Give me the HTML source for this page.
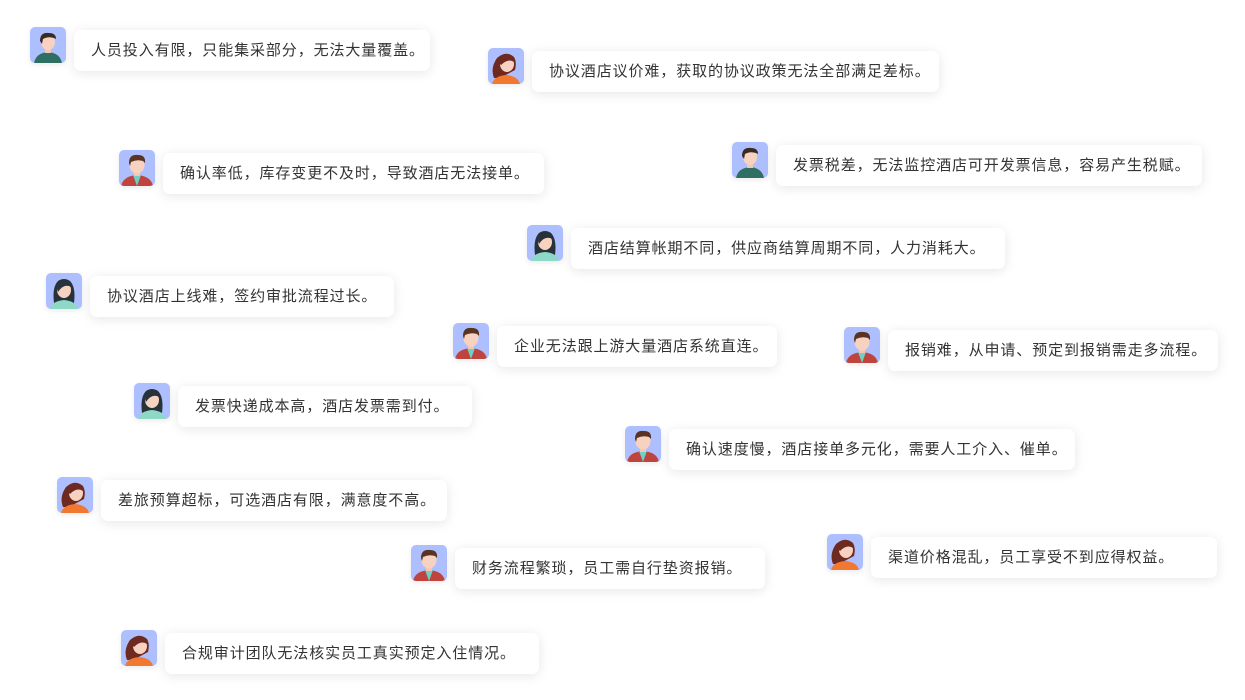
<!DOCTYPE html>
<html><head><meta charset="utf-8"><style>
body{margin:0;width:1245px;height:700px;background:#fff;position:relative;overflow:hidden;font-family:"Liberation Sans","Noto Sans CJK SC",sans-serif;}
.b{position:absolute;height:41px;background:#fff;border-radius:7px;box-shadow:0 2px 12px rgba(0,0,0,0.10);font-size:15px;letter-spacing:0.9px;color:#333;line-height:41px;padding-left:17px;box-sizing:border-box;white-space:nowrap}
.a{position:absolute;width:36px;height:36px;border-radius:5px;background:#aebfff;overflow:hidden;box-shadow:0 2px 6px rgba(0,0,0,0.08)}
.a svg{display:block}
</style></head><body>
<svg width="0" height="0" style="position:absolute">
<defs>
<symbol id="mg" viewBox="0 0 36 36"><path d="M4 36 Q6 26 18 25 Q30 26 32 36Z" fill="#2e6e63"/><rect x="15" y="20" width="6" height="6" fill="#f5c6b0"/><ellipse cx="18" cy="15" rx="7" ry="8" fill="#f8d2c0"/><path d="M10 14 Q10 5 19 6 Q26 6 26 12 L24 11 Q18 9 13 12 L12 17Z" fill="#3a2a22"/></symbol>
<symbol id="mr" viewBox="0 0 36 36"><path d="M2 36 Q4 26 18 25 Q32 26 34 36Z" fill="#c0443e"/><path d="M14 25 L18 36 L22 25Z" fill="#6fd0c6"/><rect x="15" y="20" width="6" height="6" fill="#f5c6b0"/><ellipse cx="18" cy="15" rx="7.5" ry="8.5" fill="#f8d2c0"/><path d="M10 13 Q10 4 19 5 Q27 5 26 13 L24 11 Q18 9 12 12 L11 16Z" fill="#5a3322"/></symbol>
<symbol id="fo" viewBox="0 0 36 36"><path d="M6 30 Q2 20 9 10 Q18 2 26 9 Q29 14 27 22 L12 30Z" fill="#6e2a20"/><path d="M4 36 Q6 28 18 27 Q30 28 32 36Z" fill="#f07830"/><ellipse cx="19" cy="16" rx="7" ry="8" fill="#f8d2c0"/><path d="M11 15 Q12 6 20 7 Q26 8 26 14 Q20 10 13 17Z" fill="#6e2a20"/></symbol>
<symbol id="ft" viewBox="0 0 36 36"><path d="M8 30 Q6 14 12 8 Q18 4 24 8 Q30 14 28 30Z" fill="#27323a"/><path d="M4 36 Q6 28 18 27 Q30 28 32 36Z" fill="#8ed8c8"/><ellipse cx="18" cy="17" rx="7" ry="8" fill="#f8d2c0"/><path d="M11 16 Q12 7 19 8 Q25 9 25 14 Q18 10 12 19Z" fill="#27323a"/></symbol>
</defs></svg>

<div class="a" style="left:30px;top:27px"><svg width="36" height="36"><use href="#mg"/></svg></div>
<div class="b" style="left:74px;top:30px;width:356px">人员投入有限，只能集采部分，无法大量覆盖。</div>

<div class="a" style="left:488px;top:48px"><svg width="36" height="36"><use href="#fo"/></svg></div>
<div class="b" style="left:532px;top:51px;width:407px">协议酒店议价难，获取的协议政策无法全部满足差标。</div>

<div class="a" style="left:119px;top:150px"><svg width="36" height="36"><use href="#mr"/></svg></div>
<div class="b" style="left:163px;top:153px;width:381px">确认率低，库存变更不及时，导致酒店无法接单。</div>

<div class="a" style="left:732px;top:142px"><svg width="36" height="36"><use href="#mg"/></svg></div>
<div class="b" style="left:776px;top:145px;width:426px">发票税差，无法监控酒店可开发票信息，容易产生税赋。</div>

<div class="a" style="left:527px;top:225px"><svg width="36" height="36"><use href="#ft"/></svg></div>
<div class="b" style="left:571px;top:228px;width:434px">酒店结算帐期不同，供应商结算周期不同，人力消耗大。</div>

<div class="a" style="left:46px;top:273px"><svg width="36" height="36"><use href="#ft"/></svg></div>
<div class="b" style="left:90px;top:276px;width:304px">协议酒店上线难，签约审批流程过长。</div>

<div class="a" style="left:453px;top:323px"><svg width="36" height="36"><use href="#mr"/></svg></div>
<div class="b" style="left:497px;top:326px;width:280px">企业无法跟上游大量酒店系统直连。</div>

<div class="a" style="left:844px;top:327px"><svg width="36" height="36"><use href="#mr"/></svg></div>
<div class="b" style="left:888px;top:330px;width:330px">报销难，从申请、预定到报销需走多流程。</div>

<div class="a" style="left:134px;top:383px"><svg width="36" height="36"><use href="#ft"/></svg></div>
<div class="b" style="left:178px;top:386px;width:294px">发票快递成本高，酒店发票需到付。</div>

<div class="a" style="left:625px;top:426px"><svg width="36" height="36"><use href="#mr"/></svg></div>
<div class="b" style="left:669px;top:429px;width:406px">确认速度慢，酒店接单多元化，需要人工介入、催单。</div>

<div class="a" style="left:57px;top:477px"><svg width="36" height="36"><use href="#fo"/></svg></div>
<div class="b" style="left:101px;top:480px;width:346px">差旅预算超标，可选酒店有限，满意度不高。</div>

<div class="a" style="left:411px;top:545px"><svg width="36" height="36"><use href="#mr"/></svg></div>
<div class="b" style="left:455px;top:548px;width:310px">财务流程繁琐，员工需自行垫资报销。</div>

<div class="a" style="left:827px;top:534px"><svg width="36" height="36"><use href="#fo"/></svg></div>
<div class="b" style="left:871px;top:537px;width:346px">渠道价格混乱，员工享受不到应得权益。</div>

<div class="a" style="left:121px;top:630px"><svg width="36" height="36"><use href="#fo"/></svg></div>
<div class="b" style="left:165px;top:633px;width:374px">合规审计团队无法核实员工真实预定入住情况。</div>
</body></html>
